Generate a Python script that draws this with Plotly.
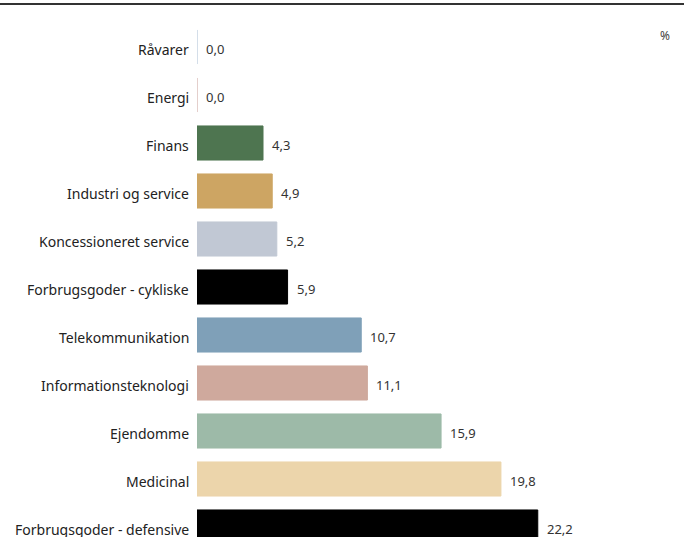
import plotly.graph_objects as go

categories = ["Råvarer", "Energi", "Finans", "Industri og service", "Koncessioneret service",
              "Forbrugsgoder - cykliske", "Telekommunikation", "Informationsteknologi",
              "Ejendomme", "Medicinal", "Forbrugsgoder - defensive"]
values = [0.0, 0.0, 4.3, 4.9, 5.2, 5.9, 10.7, 11.1, 15.9, 19.8, 22.2]
colors = ["#c6d4e2", "#dcc0bc", "#4e7550", "#cda563", "#c1c8d4", "#000000",
          "#7fa0b8", "#cfa99d", "#9dbaa8", "#ecd5ab", "#000000"]
unit_label = "%"

FONT = "Noto Sans, Open Sans, sans-serif"
W, H = 684, 537
ML, MT = 197, 23
plot_w = W - ML
plot_h = H - MT
px_per_unit = 15.35
x_max = plot_w / px_per_unit
row_px = 48
n_rows_visible = plot_h / row_px

fig = go.Figure()
fig.add_trace(go.Bar(
    y=categories, x=values, orientation="h",
    marker=dict(color=colors, line=dict(color=colors, width=1)),
    width=0.71, hoverinfo="skip",
))

for c, v in zip(categories, values):
    fig.add_annotation(x=v, y=c, xref="x", yref="y",
                       text=f"{v:.1f}".replace(".", ","),
                       showarrow=False, xanchor="left", xshift=7, yshift=-2,
                       font=dict(family=FONT, size=13, color="#333333"))
    fig.add_annotation(x=0, y=c, xref="paper", yref="y",
                       text=c, showarrow=False, xanchor="right", xshift=-6, yshift=-2,
                       font=dict(family=FONT, size=14, color="#222222"))

fig.add_annotation(x=1, y=(H - 35) / plot_h, xref="paper", yref="paper",
                   text=unit_label, showarrow=False, xanchor="right", xshift=-12,
                   yanchor="middle",
                   font=dict(family=FONT, size=12, color="#444444"))

fig.add_shape(type="line", xref="paper", yref="paper",
              x0=-ML / plot_w, x1=1, y0=(H - 4) / plot_h, y1=(H - 4) / plot_h,
              line=dict(color="#333333", width=2))

fig.update_layout(
    width=W, height=H,
    margin=dict(l=ML, r=0, t=MT, b=0, pad=0),
    paper_bgcolor="white", plot_bgcolor="white",
    showlegend=False,
    xaxis=dict(range=[0, x_max], visible=False, fixedrange=True),
    yaxis=dict(range=[-0.5 + n_rows_visible, -0.5], showgrid=False, zeroline=False,
               showline=False, ticks="", showticklabels=False, fixedrange=True),
    font=dict(family=FONT),
)

fig.write_html("out.html", config={"displayModeBar": False},
               post_script="document.body.style.margin='0';document.body.style.overflow='hidden';")
